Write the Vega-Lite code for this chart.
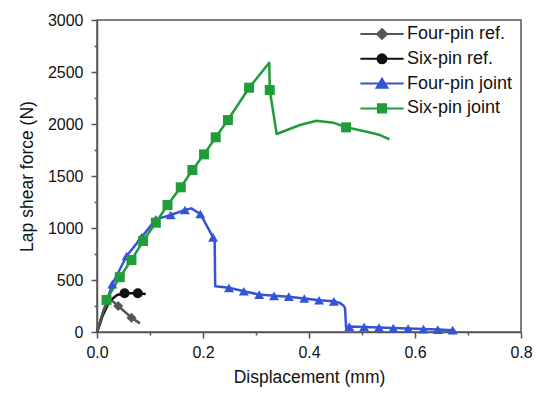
{
  "$schema": "https://vega.github.io/schema/vega-lite/v6.json",
  "width": 424,
  "height": 312,
  "autosize": {"type": "none"},
  "padding": {"left": 97, "top": 20, "right": 20, "bottom": 62},
  "background": "white",
  "config": {
    "font": "Liberation Sans",
    "view": {"stroke": "#555", "strokeWidth": 1.5},
    "axis": {
      "grid": false,
      "domainColor": "#555",
      "domainWidth": 1.5,
      "tickColor": "#555",
      "tickWidth": 1.5,
      "labelColor": "#111",
      "titleColor": "#111",
      "labelFont": "Liberation Sans",
      "titleFont": "Liberation Sans",
      "labelFontSize": 16,
      "titleFontSize": 17.5,
      "titleFontWeight": "normal",
      "labelOverlap": false,
      "labelFlush": false
    }
  },
  "datasets": {
    "curves": [
      {"series": "Four-pin joint", "disp": 0, "force": 0},
      {"series": "Four-pin joint", "disp": 0.01, "force": 170},
      {"series": "Four-pin joint", "disp": 0.029, "force": 461},
      {"series": "Four-pin joint", "disp": 0.056, "force": 731},
      {"series": "Four-pin joint", "disp": 0.084, "force": 910},
      {"series": "Four-pin joint", "disp": 0.111, "force": 1083},
      {"series": "Four-pin joint", "disp": 0.139, "force": 1125},
      {"series": "Four-pin joint", "disp": 0.166, "force": 1173},
      {"series": "Four-pin joint", "disp": 0.178, "force": 1189},
      {"series": "Four-pin joint", "disp": 0.195, "force": 1135},
      {"series": "Four-pin joint", "disp": 0.219, "force": 910},
      {"series": "Four-pin joint", "disp": 0.222, "force": 895},
      {"series": "Four-pin joint", "disp": 0.223, "force": 440},
      {"series": "Four-pin joint", "disp": 0.249, "force": 425},
      {"series": "Four-pin joint", "disp": 0.277, "force": 392},
      {"series": "Four-pin joint", "disp": 0.306, "force": 360},
      {"series": "Four-pin joint", "disp": 0.334, "force": 348},
      {"series": "Four-pin joint", "disp": 0.362, "force": 340},
      {"series": "Four-pin joint", "disp": 0.391, "force": 322},
      {"series": "Four-pin joint", "disp": 0.419, "force": 305},
      {"series": "Four-pin joint", "disp": 0.447, "force": 295},
      {"series": "Four-pin joint", "disp": 0.458, "force": 280},
      {"series": "Four-pin joint", "disp": 0.465, "force": 255},
      {"series": "Four-pin joint", "disp": 0.468, "force": 230},
      {"series": "Four-pin joint", "disp": 0.47, "force": 40},
      {"series": "Four-pin joint", "disp": 0.476, "force": 52},
      {"series": "Four-pin joint", "disp": 0.504, "force": 48},
      {"series": "Four-pin joint", "disp": 0.532, "force": 43},
      {"series": "Four-pin joint", "disp": 0.559, "force": 38},
      {"series": "Four-pin joint", "disp": 0.587, "force": 33},
      {"series": "Four-pin joint", "disp": 0.616, "force": 28},
      {"series": "Four-pin joint", "disp": 0.643, "force": 23},
      {"series": "Four-pin joint", "disp": 0.671, "force": 18},
      {"series": "Four-pin joint", "disp": 0.676, "force": 12},
      {"series": "Six-pin joint", "disp": 0, "force": 0},
      {"series": "Six-pin joint", "disp": 0.008, "force": 115},
      {"series": "Six-pin joint", "disp": 0.018, "force": 308},
      {"series": "Six-pin joint", "disp": 0.043, "force": 527},
      {"series": "Six-pin joint", "disp": 0.065, "force": 692},
      {"series": "Six-pin joint", "disp": 0.087, "force": 875},
      {"series": "Six-pin joint", "disp": 0.111, "force": 1051},
      {"series": "Six-pin joint", "disp": 0.133, "force": 1221},
      {"series": "Six-pin joint", "disp": 0.158, "force": 1391},
      {"series": "Six-pin joint", "disp": 0.18, "force": 1558},
      {"series": "Six-pin joint", "disp": 0.202, "force": 1708},
      {"series": "Six-pin joint", "disp": 0.224, "force": 1872},
      {"series": "Six-pin joint", "disp": 0.247, "force": 2038},
      {"series": "Six-pin joint", "disp": 0.287, "force": 2349},
      {"series": "Six-pin joint", "disp": 0.325, "force": 2589},
      {"series": "Six-pin joint", "disp": 0.326, "force": 2327},
      {"series": "Six-pin joint", "disp": 0.339, "force": 1904},
      {"series": "Six-pin joint", "disp": 0.383, "force": 1990},
      {"series": "Six-pin joint", "disp": 0.414, "force": 2032},
      {"series": "Six-pin joint", "disp": 0.446, "force": 2013},
      {"series": "Six-pin joint", "disp": 0.47, "force": 1968},
      {"series": "Six-pin joint", "disp": 0.509, "force": 1926},
      {"series": "Six-pin joint", "disp": 0.534, "force": 1894},
      {"series": "Six-pin joint", "disp": 0.552, "force": 1853},
      {"series": "Six-pin ref.", "disp": 0, "force": 0},
      {"series": "Six-pin ref.", "disp": 0.01, "force": 150},
      {"series": "Six-pin ref.", "disp": 0.024, "force": 300},
      {"series": "Six-pin ref.", "disp": 0.038, "force": 355},
      {"series": "Six-pin ref.", "disp": 0.052, "force": 372},
      {"series": "Six-pin ref.", "disp": 0.077, "force": 372},
      {"series": "Six-pin ref.", "disp": 0.092, "force": 365},
      {"series": "Four-pin ref.", "disp": 0, "force": 0},
      {"series": "Four-pin ref.", "disp": 0.012, "force": 200},
      {"series": "Four-pin ref.", "disp": 0.022, "force": 310},
      {"series": "Four-pin ref.", "disp": 0.03, "force": 295},
      {"series": "Four-pin ref.", "disp": 0.04, "force": 250},
      {"series": "Four-pin ref.", "disp": 0.065, "force": 138},
      {"series": "Four-pin ref.", "disp": 0.081, "force": 83}
    ],
    "markers": [
      {"series": "Four-pin joint", "disp": 0.029, "force": 461},
      {"series": "Four-pin joint", "disp": 0.056, "force": 731},
      {"series": "Four-pin joint", "disp": 0.084, "force": 910},
      {"series": "Four-pin joint", "disp": 0.111, "force": 1083},
      {"series": "Four-pin joint", "disp": 0.139, "force": 1125},
      {"series": "Four-pin joint", "disp": 0.166, "force": 1173},
      {"series": "Four-pin joint", "disp": 0.195, "force": 1135},
      {"series": "Four-pin joint", "disp": 0.219, "force": 910},
      {"series": "Four-pin joint", "disp": 0.249, "force": 425},
      {"series": "Four-pin joint", "disp": 0.277, "force": 392},
      {"series": "Four-pin joint", "disp": 0.306, "force": 360},
      {"series": "Four-pin joint", "disp": 0.334, "force": 348},
      {"series": "Four-pin joint", "disp": 0.362, "force": 340},
      {"series": "Four-pin joint", "disp": 0.391, "force": 322},
      {"series": "Four-pin joint", "disp": 0.419, "force": 305},
      {"series": "Four-pin joint", "disp": 0.447, "force": 295},
      {"series": "Four-pin joint", "disp": 0.476, "force": 52},
      {"series": "Four-pin joint", "disp": 0.504, "force": 48},
      {"series": "Four-pin joint", "disp": 0.532, "force": 43},
      {"series": "Four-pin joint", "disp": 0.559, "force": 38},
      {"series": "Four-pin joint", "disp": 0.587, "force": 33},
      {"series": "Four-pin joint", "disp": 0.616, "force": 28},
      {"series": "Four-pin joint", "disp": 0.643, "force": 23},
      {"series": "Four-pin joint", "disp": 0.671, "force": 18},
      {"series": "Six-pin joint", "disp": 0.018, "force": 308},
      {"series": "Six-pin joint", "disp": 0.043, "force": 527},
      {"series": "Six-pin joint", "disp": 0.065, "force": 692},
      {"series": "Six-pin joint", "disp": 0.087, "force": 875},
      {"series": "Six-pin joint", "disp": 0.111, "force": 1051},
      {"series": "Six-pin joint", "disp": 0.133, "force": 1221},
      {"series": "Six-pin joint", "disp": 0.158, "force": 1391},
      {"series": "Six-pin joint", "disp": 0.18, "force": 1558},
      {"series": "Six-pin joint", "disp": 0.202, "force": 1708},
      {"series": "Six-pin joint", "disp": 0.224, "force": 1872},
      {"series": "Six-pin joint", "disp": 0.247, "force": 2038},
      {"series": "Six-pin joint", "disp": 0.287, "force": 2349},
      {"series": "Six-pin joint", "disp": 0.326, "force": 2327},
      {"series": "Six-pin joint", "disp": 0.47, "force": 1968},
      {"series": "Six-pin ref.", "disp": 0.052, "force": 372},
      {"series": "Six-pin ref.", "disp": 0.077, "force": 372},
      {"series": "Four-pin ref.", "disp": 0.04, "force": 250},
      {"series": "Four-pin ref.", "disp": 0.065, "force": 138}
    ]
  },
  "encoding": {
    "x": {
      "field": "disp",
      "type": "quantitative",
      "scale": {"domain": [0, 0.8], "nice": false},
      "axis": {
        "title": "Displacement (mm)",
        "values": [0, 0.1, 0.2, 0.3, 0.4, 0.5, 0.6, 0.7, 0.8],
        "labelExpr": "round(datum.value*10)%2===0 ? format(datum.value,'.1f') : ''",
        "tickSize": {"condition": {"test": "round(datum.value*10)%2===0", "value": 6}, "value": 3},
        "labelPadding": 6,
        "titlePadding": 8
      }
    },
    "y": {
      "field": "force",
      "type": "quantitative",
      "scale": {"domain": [0, 3000], "nice": false},
      "axis": {
        "title": "Lap shear force (N)",
        "values": [0, 250, 500, 750, 1000, 1250, 1500, 1750, 2000, 2250, 2500, 2750, 3000],
        "format": "d",
        "labelExpr": "datum.value%500===0 ? datum.label : ''",
        "tickSize": {"condition": {"test": "datum.value%500===0", "value": 6}, "value": 3},
        "labelPadding": 8,
        "titlePadding": 11
      }
    },
    "color": {
      "field": "series",
      "type": "nominal",
      "scale": {
        "domain": ["Four-pin ref.", "Six-pin ref.", "Four-pin joint", "Six-pin joint"],
        "range": ["#555555", "#111111", "#3553d6", "#1f9d3a"]
      },
      "legend": {
        "orient": "none",
        "legendX": 276,
        "legendY": 5,
        "title": null,
        "padding": 0,
        "labelFont": "Liberation Sans",
        "labelFontSize": 18,
        "labelColor": "#111",
        "symbolSize": 81,
        "symbolStrokeWidth": 2,
        "symbolOffset": 0,
        "labelOffset": 16,
        "rowPadding": 6.8,
        "encode": {
          "symbols": {
            "update": {
              "shape": {"signal": "datum.value === 'Four-pin ref.' ? 'M-4.8,0H4.8M0,-1.1L1.1,0L0,1.1L-1.1,0Z' : datum.value === 'Six-pin ref.' ? 'M-4.8,0H4.8M-1,0A1,1,0,1,1,1,0A1,1,0,1,1,-1,0Z' : datum.value === 'Four-pin joint' ? 'M-4.8,0H4.8M0,-1.1L1.2,0.9L-1.2,0.9Z' : 'M-4.8,0H4.8M-0.9,-0.9H0.9V0.9H-0.9Z'"},
              "stroke": {"signal": "scale('color', datum.value)"},
              "strokeWidth": {"value": 2},
              "opacity": {"value": 1},
              "size": {"value": 81}
            }
          }
        }
      }
    }
  },
  "layer": [
    {
      "data": {"name": "curves"},
      "mark": {"type": "line", "strokeWidth": 2.5, "strokeJoin": "round"}
    },
    {
      "data": {"name": "markers"},
      "mark": {"type": "point", "filled": true, "opacity": 1},
      "encoding": {
        "shape": {
          "field": "series",
          "type": "nominal",
          "scale": {
            "domain": ["Six-pin joint", "Four-pin joint", "Six-pin ref.", "Four-pin ref."],
            "range": ["square", "triangle-up", "circle", "diamond"]
          },
          "legend": null
        },
        "size": {
          "field": "series",
          "type": "nominal",
          "scale": {
            "domain": ["Six-pin ref.", "Four-pin ref.", "Six-pin joint", "Four-pin joint"],
            "range": [100, 100, 90, 150]
          },
          "legend": null
        }
      }
    }
  ]
}
